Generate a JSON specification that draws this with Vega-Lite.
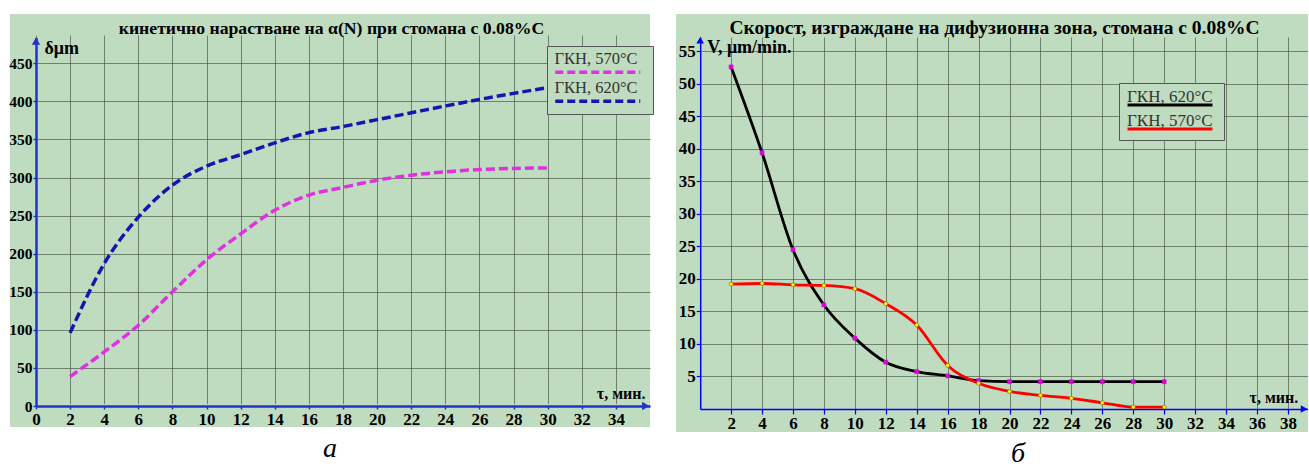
{
  "$schema": "https://vega.github.io/schema/vega-lite/v6.json",
  "padding": {"left": 8, "top": 9, "right": 0, "bottom": 0},
  "background": "white",
  "spacing": 22,
  "resolve": {"scale": {"color": "independent"}, "legend": {"color": "independent"}},
  "config": {
    "view": {"stroke": null, "fill": "#c0dcc0"},
    "axis": {"labelFont": "Liberation Serif", "labelFontWeight": "bold", "labelColor": "#000", "titleFont": "Liberation Serif", "titleFontWeight": "bold", "titleColor": "#000", "gridColor": "#4a5a4a", "gridOpacity": 0.7, "gridWidth": 1, "labelOverlap": false, "labelFlush": false},
    "title": {"font": "Liberation Serif"}
  },
  "datasets": {
    "left": [
      {"t": 2, "d": 38.5, "s": "ГКН, 570°C"}, {"t": 4, "d": 71, "s": "ГКН, 570°C"}, {"t": 6, "d": 106, "s": "ГКН, 570°C"}, {"t": 8, "d": 150, "s": "ГКН, 570°C"}, {"t": 10, "d": 192, "s": "ГКН, 570°C"}, {"t": 12, "d": 226, "s": "ГКН, 570°C"}, {"t": 14, "d": 257, "s": "ГКН, 570°C"}, {"t": 16, "d": 277, "s": "ГКН, 570°C"}, {"t": 18, "d": 287, "s": "ГКН, 570°C"}, {"t": 20, "d": 296.5, "s": "ГКН, 570°C"}, {"t": 22, "d": 303, "s": "ГКН, 570°C"}, {"t": 24, "d": 307.5, "s": "ГКН, 570°C"}, {"t": 26, "d": 310.5, "s": "ГКН, 570°C"}, {"t": 28, "d": 312, "s": "ГКН, 570°C"}, {"t": 30, "d": 312.5, "s": "ГКН, 570°C"},
      {"t": 2, "d": 96, "s": "ГКН, 620°C"}, {"t": 4, "d": 187, "s": "ГКН, 620°C"}, {"t": 6, "d": 248, "s": "ГКН, 620°C"}, {"t": 8, "d": 290, "s": "ГКН, 620°C"}, {"t": 10, "d": 315, "s": "ГКН, 620°C"}, {"t": 12, "d": 330, "s": "ГКН, 620°C"}, {"t": 14, "d": 345.5, "s": "ГКН, 620°C"}, {"t": 16, "d": 359, "s": "ГКН, 620°C"}, {"t": 18, "d": 367, "s": "ГКН, 620°C"}, {"t": 20, "d": 376, "s": "ГКН, 620°C"}, {"t": 22, "d": 385, "s": "ГКН, 620°C"}, {"t": 24, "d": 394, "s": "ГКН, 620°C"}, {"t": 26, "d": 402.5, "s": "ГКН, 620°C"}, {"t": 28, "d": 410.5, "s": "ГКН, 620°C"}, {"t": 30, "d": 418, "s": "ГКН, 620°C"}
    ],
    "right": [
      {"t": 2, "v": 52.6, "s": "ГКН, 620°C"}, {"t": 4, "v": 39.4, "s": "ГКН, 620°C"}, {"t": 6, "v": 24.5, "s": "ГКН, 620°C"}, {"t": 8, "v": 16.0, "s": "ГКН, 620°C"}, {"t": 10, "v": 10.9, "s": "ГКН, 620°C"}, {"t": 12, "v": 7.2, "s": "ГКН, 620°C"}, {"t": 14, "v": 5.75, "s": "ГКН, 620°C"}, {"t": 16, "v": 5.1, "s": "ГКН, 620°C"}, {"t": 18, "v": 4.35, "s": "ГКН, 620°C"}, {"t": 20, "v": 4.2, "s": "ГКН, 620°C"}, {"t": 22, "v": 4.2, "s": "ГКН, 620°C"}, {"t": 24, "v": 4.2, "s": "ГКН, 620°C"}, {"t": 26, "v": 4.2, "s": "ГКН, 620°C"}, {"t": 28, "v": 4.2, "s": "ГКН, 620°C"}, {"t": 30, "v": 4.2, "s": "ГКН, 620°C"},
      {"t": 2, "v": 19.2, "s": "ГКН, 570°C"}, {"t": 4, "v": 19.3, "s": "ГКН, 570°C"}, {"t": 6, "v": 19.1, "s": "ГКН, 570°C"}, {"t": 8, "v": 19.0, "s": "ГКН, 570°C"}, {"t": 10, "v": 18.5, "s": "ГКН, 570°C"}, {"t": 12, "v": 16.2, "s": "ГКН, 570°C"}, {"t": 14, "v": 12.9, "s": "ГКН, 570°C"}, {"t": 16, "v": 6.7, "s": "ГКН, 570°C"}, {"t": 18, "v": 3.95, "s": "ГКН, 570°C"}, {"t": 20, "v": 2.7, "s": "ГКН, 570°C"}, {"t": 22, "v": 2.1, "s": "ГКН, 570°C"}, {"t": 24, "v": 1.65, "s": "ГКН, 570°C"}, {"t": 26, "v": 0.95, "s": "ГКН, 570°C"}, {"t": 28, "v": 0.3, "s": "ГКН, 570°C"}, {"t": 30, "v": 0.3, "s": "ГКН, 570°C"}
    ]
  },
  "hconcat": [
    {
      "width": 640,
      "height": 413,
      "title": {"text": "а", "orient": "bottom", "anchor": "middle", "fontSize": 28, "fontStyle": "italic", "fontWeight": "normal", "offset": 8, "color": "#000"},
      "resolve": {"axis": {"x": "independent", "y": "independent"}},
      "layer": [
        {
          "data": {"name": "left"},
          "mark": {"type": "line", "interpolate": "monotone", "strokeWidth": 3.5, "strokeDash": [9, 4]},
          "encoding": {
            "x": {"field": "t", "type": "quantitative", "scale": {"domain": [0, 36], "range": [26, 640], "nice": false, "zero": false},
              "axis": {"orient": "bottom", "offset": -21, "values": [0, 2, 4, 6, 8, 10, 12, 14, 16, 18, 20, 22, 24, 26, 28, 30, 32, 34], "domainColor": "#2233cc", "domainWidth": 2.5, "ticks": true, "tickColor": "#2233cc", "tickSize": 3, "tickWidth": 1.5, "labelFontSize": 17, "labelPadding": 2, "title": "τ, мин.", "titleFontSize": 16, "titleX": 635, "titleY": -8, "titleAlign": "right", "titleBaseline": "alphabetic", "titleAngle": 0}},
            "y": {"field": "d", "type": "quantitative", "scale": {"domain": [0, 484], "range": [392, 23.4], "nice": false},
              "axis": {"orient": "left", "offset": -26, "values": [0, 50, 100, 150, 200, 250, 300, 350, 400, 450], "domainColor": "#2233cc", "domainWidth": 2.5, "ticks": true, "tickColor": "#2233cc", "tickSize": 3, "tickWidth": 1.5, "labelFontSize": 15.5, "labelPadding": 1, "title": "δμm", "titleFontSize": 18, "titleAngle": 0, "titleX": 8, "titleY": 39, "titleAlign": "left", "titleBaseline": "alphabetic"}},
            "color": {"field": "s", "type": "nominal", "scale": {"domain": ["ГКН, 570°C", "ГКН, 620°C"], "range": ["#e030e0", "#1515b0"]},
              "legend": {"orient": "none", "legendX": 537, "legendY": 32, "title": null, "symbolType": "M-1,2.6H16", "symbolSize": 100, "symbolStrokeWidth": 3.5, "symbolDash": [8, 4], "symbolFillColor": "transparent", "labelFont": "Liberation Serif", "labelFontSize": 16.5, "labelColor": "#333", "labelOffset": -14, "labelLimit": 0, "padding": 5, "rowPadding": -0.5, "fillColor": "#c0dcc0", "strokeColor": "#555", "cornerRadius": 0}}
          }
        },
        {
          "data": {"values": [{}]},
          "mark": {"type": "point", "shape": "triangle-right", "filled": true, "size": 70, "color": "#2233cc", "opacity": 1},
          "encoding": {
            "x": {"datum": 35.75, "type": "quantitative",
              "axis": {"orient": "top", "offset": 5, "domain": true, "domainOpacity": 0, "ticks": false, "labels": false, "grid": false, "title": "кинетично нарастване на α(N) при стомана с 0.08%C", "titleFontSize": 17.7, "titleX": 321, "titleY": 24, "titleAlign": "center", "titleBaseline": "alphabetic", "titleAngle": 0}},
            "y": {"datum": 0, "type": "quantitative", "axis": null}
          }
        },
        {
          "data": {"values": [{}]},
          "mark": {"type": "point", "shape": "triangle-up", "filled": true, "size": 70, "color": "#2233cc", "opacity": 1},
          "encoding": {
            "x": {"datum": 0, "type": "quantitative", "axis": null},
            "y": {"datum": 479, "type": "quantitative", "axis": null}
          }
        }
      ]
    },
    {
      "width": 632,
      "height": 418,
      "title": {"text": "б", "orient": "bottom", "anchor": "middle", "dx": 26, "fontSize": 28, "fontStyle": "italic", "fontWeight": "normal", "offset": 8, "color": "#000"},
      "resolve": {"axis": {"x": "independent", "y": "independent"}},
      "layer": [
        {
          "data": {"name": "right"},
          "mark": {"type": "line", "interpolate": "monotone", "strokeWidth": 2.8},
          "encoding": {
            "x": {"field": "t", "type": "quantitative", "scale": {"domain": [0, 39.3], "range": [24.2, 632], "nice": false, "zero": false},
              "axis": {"orient": "bottom", "offset": -23, "values": [2, 4, 6, 8, 10, 12, 14, 16, 18, 20, 22, 24, 26, 28, 30, 32, 34, 36, 38], "domainColor": "#0000ff", "domainWidth": 1.5, "ticks": true, "tickColor": "#0000ff", "tickSize": 5, "tickWidth": 1.2, "labelFontSize": 17, "labelPadding": 1, "title": "τ, мин.", "titleFontSize": 16, "titleX": 573, "titleY": -7, "titleAlign": "left", "titleBaseline": "alphabetic", "titleAngle": 0}},
            "y": {"field": "v", "type": "quantitative", "scale": {"domain": [0, 57.2], "range": [395, 23], "nice": false},
              "axis": {"orient": "left", "offset": -24.2, "values": [5, 10, 15, 20, 25, 30, 35, 40, 45, 50, 55], "domainColor": "#0000ff", "domainWidth": 1.5, "ticks": true, "tickColor": "#0000ff", "tickSize": 4, "tickWidth": 1.2, "labelFontSize": 17, "labelPadding": 1, "title": "V, μm/min.", "titleFontSize": 18, "titleAngle": 0, "titleX": 6.5, "titleY": 38, "titleAlign": "left", "titleBaseline": "alphabetic"}},
            "color": {"field": "s", "type": "nominal", "scale": {"domain": ["ГКН, 620°C", "ГКН, 570°C"], "range": ["#000000", "#ff0000"]},
              "legend": {"orient": "none", "legendX": 443, "legendY": 69, "title": null, "symbolType": "M-1,1.7H16", "symbolSize": 100, "symbolStrokeWidth": 3, "symbolFillColor": "transparent", "labelFont": "Liberation Serif", "labelFontSize": 17, "labelColor": "#333", "labelOffset": -14, "labelLimit": 0, "padding": 5, "rowPadding": 0, "fillColor": "#c0dcc0", "strokeColor": "#555", "cornerRadius": 0}}
          }
        },
        {
          "data": {"name": "right"},
          "mark": {"type": "point", "filled": true, "size": 16, "strokeWidth": 0.6, "opacity": 1},
          "encoding": {
            "x": {"field": "t", "type": "quantitative", "axis": null},
            "y": {"field": "v", "type": "quantitative", "axis": null},
            "shape": {"field": "s", "type": "nominal", "scale": {"domain": ["ГКН, 620°C", "ГКН, 570°C"], "range": ["square", "circle"]}, "legend": null},
            "fill": {"field": "s", "type": "nominal", "scale": {"domain": ["ГКН, 620°C", "ГКН, 570°C"], "range": ["#e000e0", "#ffff00"]}, "legend": null},
            "stroke": {"field": "s", "type": "nominal", "scale": {"domain": ["ГКН, 620°C", "ГКН, 570°C"], "range": ["#e000e0", "#806000"]}, "legend": null}
          }
        },
        {
          "data": {"values": [{}]},
          "mark": {"type": "point", "shape": "triangle-right", "filled": true, "size": 60, "color": "#0000ff", "opacity": 1},
          "encoding": {
            "x": {"datum": 39.05, "type": "quantitative",
              "axis": {"orient": "top", "domain": false, "ticks": false, "labels": false, "grid": false, "title": "Скорост, изграждане на дифузионна зона,  стомана с 0.08%C", "titleFontSize": 19.5, "titleX": 318, "titleY": 19, "titleAlign": "center", "titleBaseline": "alphabetic", "titleAngle": 0}},
            "y": {"datum": 0, "type": "quantitative", "axis": null}
          }
        },
        {
          "data": {"values": [{}]},
          "mark": {"type": "point", "shape": "triangle-up", "filled": true, "size": 60, "color": "#0000ff", "opacity": 1},
          "encoding": {
            "x": {"datum": 0, "type": "quantitative", "axis": null},
            "y": {"datum": 56.7, "type": "quantitative", "axis": null}
          }
        }
      ]
    }
  ]
}
